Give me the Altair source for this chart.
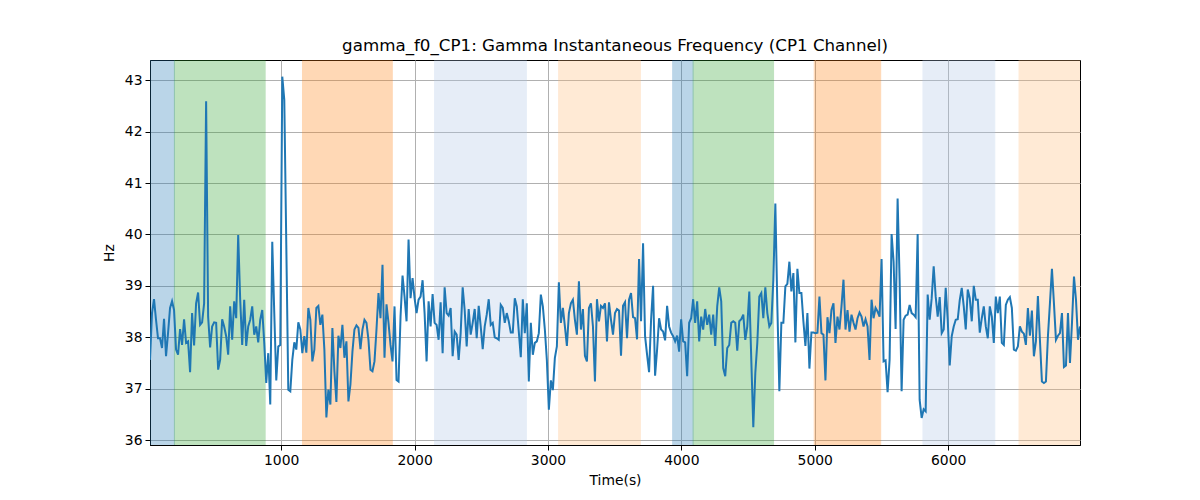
import altair as alt
import pandas as pd

# Gamma instantaneous frequency (Hz), left to right
hz_values = [
    # segment 1
    37.56, 38.47, 38.74, 38.34, 37.98, 37.98, 37.79, 38.36, 37.63, 38.08, 38.57, 38.70, 38.53, 37.76, 37.66,
    38.16, 37.85, 38.35, 37.89, 37.92, 37.32, 38.47, 37.84, 38.66, 38.87, 38.24, 38.29, 38.66, 42.59, 38.40,
    37.80, 38.21, 38.29, 38.28, 37.37, 37.56, 38.35, 38.21, 38.02, 37.66, 38.60, 37.95, 38.70, 38.37, 39.99,
    38.73, 37.85, 38.73, 37.83, 38.21, 38.34, 38.60, 38.05, 38.21, 37.90, 38.34, 38.53, 37.89, 37.11,
    # segment 2
    37.69, 36.69, 39.86, 38.47, 37.16, 37.82, 37.85, 43.07, 42.62, 39.80, 36.98, 36.95, 37.56, 37.90, 37.76,
    38.29, 38.15, 37.69, 38.02, 37.70, 38.57, 38.34, 37.53, 37.76, 38.57, 38.61, 38.24, 38.44, 37.76, 36.44,
    36.98, 36.69, 38.18, 37.34, 36.74, 38.03, 37.79, 38.24, 37.60, 37.92, 36.75, 37.08, 37.72, 38.15, 38.23,
    38.18, 37.77, 38.15, 38.34, 38.28, 37.95, 37.37, 37.34, 37.53, 38.15, 38.86, 38.37, 39.41,
    # segment 3
    37.60, 38.64, 38.28, 37.85, 37.53, 38.60, 37.17, 37.14, 38.40, 39.20, 38.79, 38.31, 39.90, 38.76, 39.15,
    38.76, 38.47, 38.73, 38.79, 39.11, 38.47, 37.53, 38.70, 38.21, 38.84, 38.28, 38.24, 37.95, 38.68, 37.69,
    38.97, 38.47, 38.42, 38.57, 37.63, 38.11, 38.05, 37.56, 38.08, 38.97, 38.53, 37.82, 38.55, 38.05, 38.28,
    38.55, 37.98, 38.61, 38.21, 37.77, 38.21, 38.44, 38.74, 38.24, 38.28, 38.00, 37.98, 37.95,
    # segment 4
    38.63, 38.57, 38.28, 38.47, 38.31, 38.09, 38.09, 38.76, 38.60, 38.11, 37.61, 38.74, 38.08, 38.66, 37.14,
    38.28, 37.66, 37.89, 37.92, 38.08, 38.83, 38.60, 38.15, 37.56, 36.59, 37.16, 36.97, 37.60, 37.82, 39.07,
    38.28, 38.57, 38.21, 37.83, 38.47, 38.66, 38.73, 38.34, 38.05, 39.09, 38.15, 38.55, 37.64, 37.53, 38.57,
    38.66, 38.21, 37.14, 38.74, 38.31, 38.61, 38.57, 38.66, 37.92, 38.68, 38.34, 38.05, 38.47,
    # segment 5
    38.55, 38.52, 37.64, 38.61, 38.68, 37.98, 38.73, 38.86, 38.39, 38.37, 37.96, 39.52, 38.31, 39.83, 38.02,
    37.66, 37.32, 38.34, 39.00, 37.25, 37.76, 38.37, 38.15, 38.11, 37.94, 38.61, 38.21, 38.09, 38.02, 37.92,
    38.03, 37.72, 38.35, 37.92, 37.90, 37.24, 38.28, 38.37, 38.74, 38.28, 38.70, 37.92, 38.40, 38.15, 38.55,
    38.24, 38.44, 38.05, 38.44, 37.83, 38.60, 38.97, 38.70, 37.40, 37.24, 37.79, 37.85, 38.28,
    # segment 6
    38.31, 38.28, 37.74, 38.31, 38.35, 38.44, 37.95, 38.21, 38.89, 37.56, 36.25, 37.30, 37.89, 38.79, 38.86,
    38.37, 38.97, 38.47, 38.21, 38.28, 39.12, 40.60, 38.60, 36.95, 38.28, 38.28, 38.99, 39.04, 39.47, 38.89,
    39.25, 37.90, 39.33, 38.86, 38.86, 38.31, 37.83, 38.47, 37.39, 38.09, 38.09, 38.08, 38.09, 38.79, 38.08,
    38.05, 37.16, 38.39, 38.08, 38.53, 38.66, 37.89, 38.40, 38.15, 38.60, 39.12, 38.15, 38.53,
    # segment 7
    38.11, 38.44, 38.28, 38.15, 38.37, 38.48, 38.40, 38.21, 38.35, 38.21, 37.56, 38.73, 38.37, 38.57, 38.50,
    38.40, 39.52, 37.53, 37.55, 36.93, 37.56, 40.01, 39.47, 38.16, 40.70, 39.12, 36.95, 38.34, 38.42, 38.44,
    38.63, 38.47, 38.44, 38.39, 40.01, 36.78, 36.43, 36.60, 36.56, 38.83, 38.34, 38.76, 39.38, 38.79, 38.40,
    38.78, 38.08, 38.15, 38.96, 38.34, 37.45, 38.02, 38.21, 38.34, 38.35, 38.72, 38.96, 38.60,
    # segment 8
    38.15, 38.93, 38.76, 38.31, 39.00, 38.73, 38.73, 38.09, 38.37, 38.60, 38.21, 37.98, 38.60, 38.40, 37.89,
    38.79, 38.47, 38.79, 37.89, 37.85, 38.63, 38.73, 38.78, 38.57, 37.76, 37.74, 37.82, 38.21, 38.11, 38.07,
    37.85, 38.57, 38.03, 38.52, 37.63, 37.92, 38.80, 37.95, 37.14, 37.11, 37.14, 38.02, 38.66, 39.33, 38.66,
    37.95, 38.03, 38.08, 38.47, 37.42, 37.45, 38.47, 37.50, 38.28, 39.18, 38.73, 37.95, 38.21,
]

# sampling grid: first and last sample time (s)
t_first = 17.0
t_last = 6988.0

# shaded segments
span_starts = [0, 200, 1160, 2150, 3080, 3935, 4088, 4996, 5811, 6531]
span_ends = [200, 880, 1833, 2838, 3693, 4088, 4691, 5494, 6349, 7000]
span_colors = ["#1f77b4", "#2ca02c", "#ff7f0e", "#aec7e8", "#ffbb78",
               "#1f77b4", "#2ca02c", "#ff7f0e", "#aec7e8", "#ffbb78"]

x_ticks = [1000, 2000, 3000, 4000, 5000, 6000]
y_ticks = [36, 37, 38, 39, 40, 41, 42, 43]

n = len(hz_values)
step = (t_last - t_first) / (n - 1)
line_df = pd.DataFrame({"t": [t_first + i * step for i in range(n)], "hz": hz_values})
span_df = pd.DataFrame({"start": span_starts, "end": span_ends, "color": span_colors})

FONT = "DejaVu Sans"
x_scale = alt.Scale(domain=[t_first, t_last], nice=False, zero=False)
y_scale = alt.Scale(domain=[35.903, 43.395], nice=False, zero=False)
x_axis = alt.Axis(values=x_ticks, title="Time(s)", format="d", grid=True)
y_axis = alt.Axis(values=y_ticks, title="Hz", format="d", grid=True)

spans = alt.Chart(span_df).mark_rect(opacity=0.3, clip=True, strokeWidth=1).encode(
    x=alt.X("start:Q", scale=x_scale, axis=x_axis, title="Time(s)"),
    x2="end:Q",
    color=alt.Color("color:N", scale=None),
    stroke=alt.Stroke("color:N", scale=None),
)

line = alt.Chart(line_df).mark_line(color="#1f77b4", strokeWidth=2, clip=True).encode(
    x=alt.X("t:Q", scale=x_scale, axis=x_axis, title="Time(s)"),
    y=alt.Y("hz:Q", scale=y_scale, axis=y_axis, title="Hz"),
)

chart = alt.layer(spans, line).properties(
    width=930,
    height=385,
    autosize=alt.AutoSizeParams(type="none"),
    padding={"left": 142, "top": 52, "right": 100, "bottom": 52},
    title=alt.TitleParams(
        text="gamma_f0_CP1: Gamma Instantaneous Frequency (CP1 Channel)",
        font=FONT, fontSize=16.7, fontWeight="normal", color="black",
        anchor="middle", offset=5,
    ),
).configure_view(
    stroke="black", strokeWidth=1,
).configure_axis(
    gridColor="#b0b0b0", gridWidth=1, gridOpacity=1,
    domainColor="black", domainWidth=1,
    tickColor="black", tickSize=5, tickWidth=1,
    labelFont=FONT, labelFontSize=13.9, labelColor="black", labelPadding=3,
    titleFont=FONT, titleFontSize=13.9, titleFontWeight="normal", titleColor="black",
).configure_axisX(titlePadding=7).configure_axisY(titlePadding=8)

chart.save("out.html", embed_options={"renderer": "svg", "actions": False})
